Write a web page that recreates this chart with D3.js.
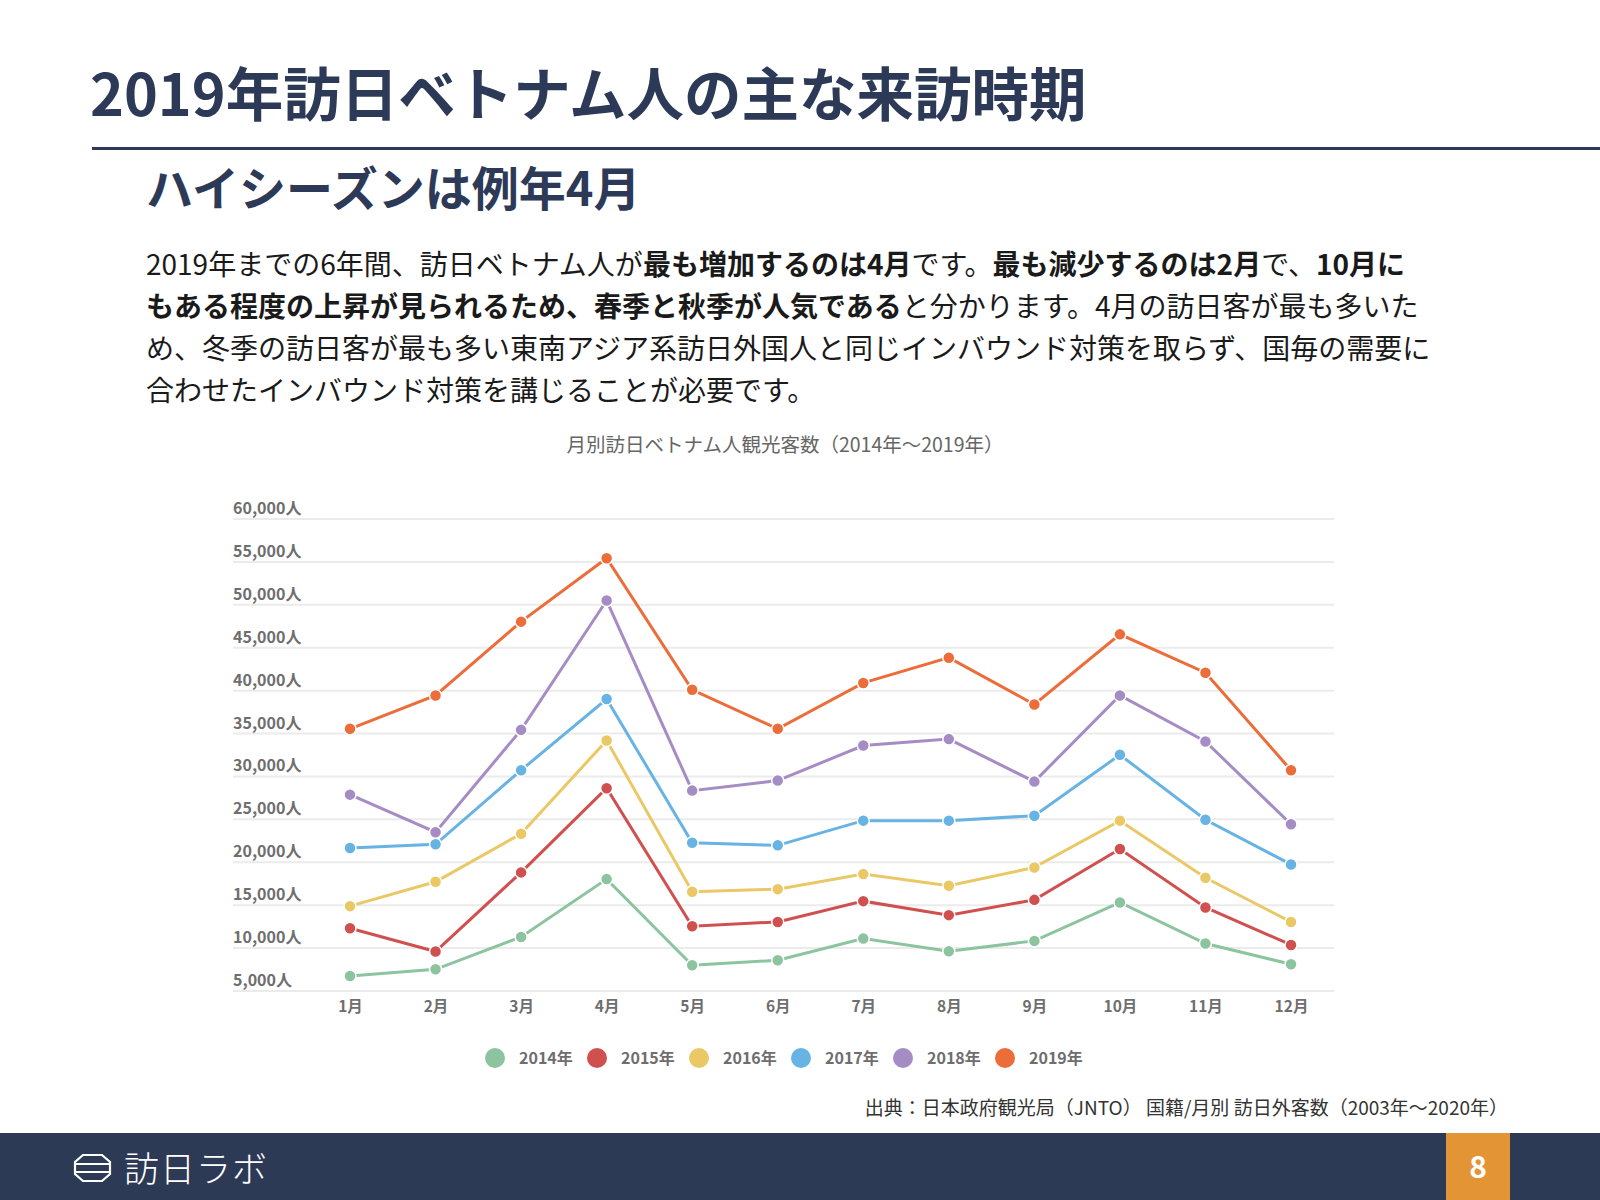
<!DOCTYPE html>
<html><head><meta charset="utf-8">
<script src="https://cdn.jsdelivr.net/npm/d3@7"></script>
<style>
html,body{margin:0;padding:0;background:#fff;}
svg{display:block;font-family:"Noto Sans CJK JP","Noto Sans",sans-serif;}
</style></head>
<body>
<svg id="c" width="1600" height="1200"></svg>
<script>
const months = ["1月","2月","3月","4月","5月","6月","7月","8月","9月","10月","11月","12月"];
const years = ["2014年","2015年","2016年","2017年","2018年","2019年"];
const colors = ["#8dc4a0","#d0504f","#e9c865","#67b3e3","#a68cc5","#ec6d3a"];
const v2014 = [6750,7530,11300,18040,8000,8580,11110,9630,10840,15320,10530,8120];
const v2015 = [12320,9600,18820,28630,12550,13050,15470,13840,15620,21540,14730,10370];
const v2016 = [14890,17730,23330,34190,16560,16870,18620,17260,19400,24850,18190,13050];
const v2017 = [21660,22090,30730,39020,22280,21970,24850,24850,25430,32520,24960,19750];
const v2018 = [27880,23500,35430,50500,28350,29520,33600,34350,29400,39440,34070,24430];
const v2019 = [35550,39440,48040,55430,40100,35550,40900,43840,38390,46560,42090,30730];
const yTicks = [5000,10000,15000,20000,25000,30000,35000,40000,45000,50000,55000,60000];
const series = [v2014,v2015,v2016,v2017,v2018,v2019];

const svg = d3.select("#c");
const navy = "#2c3a57";

// Header
svg.append("text").attr("x",90).attr("y",116).attr("font-size",57.5).attr("font-weight",700)
  .attr("fill",navy).text("2019年訪日ベトナム人の主な来訪時期");
svg.append("rect").attr("x",92).attr("y",147).attr("width",1508).attr("height",3).attr("fill",navy);
svg.append("text").attr("x",146).attr("y",206).attr("font-size",47).attr("font-weight",700)
  .attr("fill",navy).text("ハイシーズンは例年4月");

// Paragraph
const para = [
  [["2019年までの6年間、訪日ベトナム人が",0],["最も増加するのは4月",1],["です。",0],["最も減少するのは2月",1],["で、",0],["10月に",1]],
  [["もある程度の上昇が見られるため、春季と秋季が人気である",1],["と分かります。4月の訪日客が最も多いた",0]],
  [["め、冬季の訪日客が最も多い東南アジア系訪日外国人と同じインバウンド対策を取らず、国毎の需要に",0]],
  [["合わせたインバウンド対策を講じることが必要です。",0]]
];
para.forEach((line,i)=>{
  const t = svg.append("text").attr("x",146).attr("y",275+i*42).attr("font-size",28).attr("fill","#1a1a1a");
  line.forEach(([s,b])=>t.append("tspan").attr("font-weight",b?700:400).text(s));
});

// Chart
const x = d3.scalePoint().domain(months).range([350,1291]);
const y = d3.scaleLinear().domain([5000,60000]).range([991,519]);

svg.append("text").attr("x",785).attr("y",452).attr("text-anchor","middle").attr("font-size",19.5)
  .attr("fill","#666").text("月別訪日ベトナム人観光客数（2014年〜2019年）");

const grid = svg.append("g");
grid.selectAll("line").data(yTicks).join("line")
  .attr("x1",233).attr("x2",1334).attr("y1",d=>y(d)).attr("y2",d=>y(d))
  .attr("stroke","#ebebeb").attr("stroke-width",2);
grid.selectAll("text").data(yTicks).join("text")
  .attr("x",233).attr("y",d=>y(d)-5).attr("font-size",16).attr("font-weight",700)
  .attr("fill","#6e6e6e").text(d=>d3.format(",")(d)+"人");

const xa = svg.append("g").attr("transform","translate(0,989)")
  .call(d3.axisBottom(x).tickSize(0).tickPadding(12));
xa.select(".domain").remove();
xa.selectAll("text").attr("font-size",15.5).attr("font-weight",700).attr("fill","#6e6e6e")
  .attr("font-family","\"Noto Sans CJK JP\",sans-serif");

const line = d3.line().x((d,i)=>x(months[i])).y(d=>y(d));
series.forEach((s,k)=>{
  const g = svg.append("g");
  g.append("path").datum(s).attr("d",line).attr("fill","none").attr("stroke",colors[k]).attr("stroke-width",3);
  g.selectAll("circle").data(s).join("circle")
    .attr("cx",(d,i)=>x(months[i])).attr("cy",d=>y(d)).attr("r",6)
    .attr("fill",colors[k]).attr("stroke","#fff").attr("stroke-width",1.5);
});

// Legend
const lg = svg.append("g");
years.forEach((yr,k)=>{
  const cx = 495 + k*102;
  lg.append("circle").attr("cx",cx).attr("cy",1058).attr("r",10).attr("fill",colors[k]);
  lg.append("text").attr("x",cx+24).attr("y",1064).attr("font-size",16).attr("font-weight",700)
    .attr("fill","#6e6e6e").text(yr);
});

// Source
svg.append("text").attr("x",1508).attr("y",1115).attr("text-anchor","end").attr("font-size",19)
  .attr("fill","#333").text("出典：日本政府観光局（JNTO） 国籍/月別 訪日外客数（2003年〜2020年）");

// Footer
svg.append("rect").attr("x",0).attr("y",1133).attr("width",1600).attr("height",67).attr("fill","#2d3a56");
svg.append("rect").attr("x",1446).attr("y",1133).attr("width",64).attr("height",67).attr("fill","#e39536");
svg.append("text").attr("x",1478).attr("y",1178).attr("text-anchor","middle").attr("font-size",30)
  .attr("font-weight",700).attr("fill","#fff").text("8");
const logo = svg.append("g").attr("stroke","#fff").attr("fill","none").attr("stroke-width",2.2);
logo.append("path").attr("d","M83,1155 L102,1155 L110,1162 L110,1174 L102,1181 L83,1181 L75,1174 L75,1162 Z");
logo.append("line").attr("x1",76).attr("x2",109).attr("y1",1164).attr("y2",1164);
logo.append("line").attr("x1",76).attr("x2",109).attr("y1",1172).attr("y2",1172);
svg.append("text").attr("x",124).attr("y",1182).attr("font-size",35).attr("font-weight",300)
  .attr("fill","#fff").attr("letter-spacing",1).text("訪日ラボ");
</script>
</body></html>
